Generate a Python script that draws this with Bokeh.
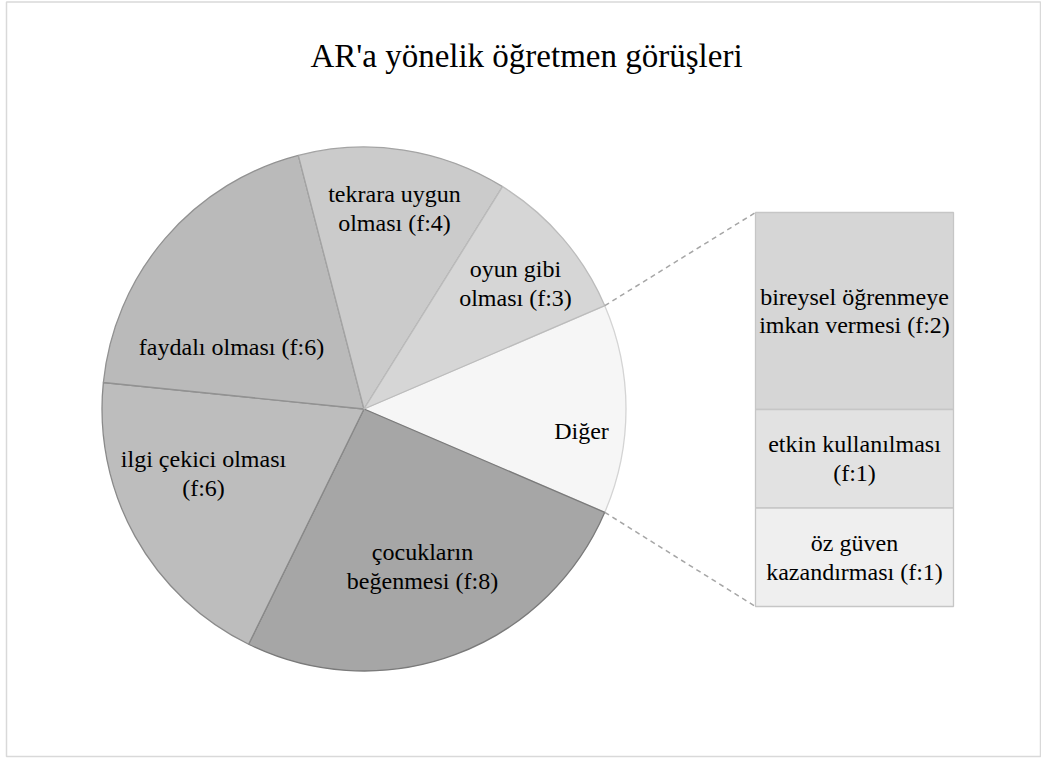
import numpy as np
from bokeh.plotting import figure
from bokeh.models import Range1d, ColumnDataSource
from bokeh.core.properties import value
from bokeh.embed import file_html
from bokeh.resources import INLINE

# ---- data ----
title_text = "AR'a yönelik öğretmen görüşleri"
pie_labels = ["Diğer", "çocukların\nbeğenmesi (f:8)", "ilgi çekici olması\n(f:6)",
              "faydalı olması (f:6)", "tekrara uygun\nolması (f:4)", "oyun gibi\nolması (f:3)"]
bar_labels = ["bireysel öğrenmeye\nimkan vermesi (f:2)", "etkin kullanılması\n(f:1)",
              "öz güven\nkazandırması (f:1)"]
bar_values = [2, 1, 1]
pie_values = [sum(bar_values), 8, 6, 6, 4, 3]

# ---- styles ----
pie_fill = ["#f6f6f6", "#a6a6a6", "#bdbdbd", "#bababa", "#cbcbcb", "#d6d6d6"]
pie_line = ["#d4d4d4", "#7a7a7a", "#8a8a8a", "#929292", "#a4a4a4", "#bcbcbc"]
bar_fill = ["#d6d6d6", "#e2e2e2", "#efefef"]
FONT = "Liberation Serif"
LAB_SIZE = "24px"

W, H = 1041, 758
p = figure(width=W, height=H, output_backend="svg", toolbar_location=None,
           x_range=Range1d(0, W), y_range=Range1d(-H, 0),
           min_border=0)
p.axis.visible = False
p.grid.visible = False
p.outline_line_color = None
p.background_fill_color = "white"

# chart border
p.quad(left=6, right=1040, top=-1.5, bottom=-756, fill_color=None,
       line_color="#d9d9d9", line_width=1.5)

# pie geometry (page pixel layout)
cx, cy, R = 363.5, -408.5, 262.0
total = sum(pie_values)
angles = [v / total * 2 * np.pi for v in pie_values]
start = angles[0] / 2.0
hi = []
lo = []
a = start
for ang in angles:
    hi.append(a)
    lo.append(a - ang)
    a -= ang

src = ColumnDataSource(dict(lo=lo, hi=hi, fill=pie_fill, line=pie_line))
p.wedge(x=cx, y=cy, radius=R, start_angle="lo", end_angle="hi", direction="anticlock",
        fill_color="fill", line_color="line", line_width=1.3, source=src)

# label positions inside slices (page layout)
lab_x = [581, 422, 203, 231, 394, 515]
lab_y = [-430, -566, -473, -346, -208, -283]
p.text(x=lab_x, y=lab_y, text=pie_labels, text_font=value(FONT), text_font_size=LAB_SIZE,
       text_align="center", text_baseline="middle", text_color="#000000",
       text_line_height=1.1)

# bar of pie
bx0, bx1 = 755, 953
btop, bbot = -212.0, -606.0
unit = (btop - bbot) / sum(bar_values)
tops, bots = [], []
t = btop
for v in bar_values:
    tops.append(t)
    bots.append(t - v * unit)
    t -= v * unit
p.quad(left=bx0, right=bx1, top=tops, bottom=bots, fill_color=bar_fill,
       line_color="#c6c6c6", line_width=1.3)
p.text(x=[(bx0 + bx1) / 2] * 3, y=[(a_ + b_) / 2 for a_, b_ in zip(tops, bots)],
       text=bar_labels, text_font=value(FONT), text_font_size=LAB_SIZE,
       text_align="center", text_baseline="middle", text_color="#000000",
       text_line_height=1.1)

# connector lines
ux, uy = cx + R * np.cos(hi[0]), cy + R * np.sin(hi[0])
lx, ly = cx + R * np.cos(lo[0]), cy + R * np.sin(lo[0])
p.segment(x0=[ux, lx], y0=[uy, ly], x1=[bx0, bx0], y1=[btop, bbot],
          line_color="#a6a6a6", line_width=1.5, line_dash="5 4")

# title
p.text(x=[526], y=[-55], text=[title_text], text_font=value(FONT), text_font_size="33px",
       text_align="center", text_baseline="alphabetic", text_color="#000000")

open("out.html", "w").write(file_html(p, INLINE))
